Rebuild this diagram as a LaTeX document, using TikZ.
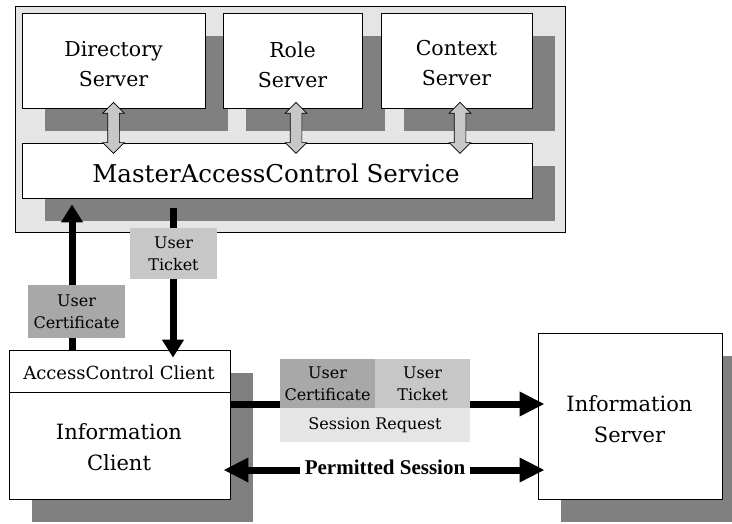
\documentclass[tikz,border=0pt]{standalone}
\usepackage{fontspec}
\setmainfont{DejaVu Serif}
\newfontfamily\permfont{Liberation Serif}
\usetikzlibrary{arrows.meta,shapes.arrows,calc,backgrounds}

\tikzset{
  panel/.style={draw=black, line width=0.8pt, fill=black!10},
  box/.style={draw=black, line width=0.8pt, fill=white, inner sep=0pt},
  dropshade/.style={fill=black!50},
  srvtext/.style={align=center, inner sep=0pt, font=\fontsize{20.5}{30}\selectfont},
  infotext/.style={align=center, inner sep=0pt, font=\fontsize{21}{31}\selectfont},
  lbl/.style={align=center, inner sep=0pt, font=\fontsize{16}{22}\selectfont},
  blockarrow/.style={double arrow, draw=black, line width=0.6pt, fill=black!22,
    inner xsep=0pt, inner ysep=5.5pt, minimum height=51pt,
    double arrow head extend=5pt, rotate=90},
  flow/.style={line width=7pt, draw=black},
  vtip/.style={-{Triangle[width=21pt,length=18pt]}},
  htip/.style={-{Triangle[width=23pt,length=25pt]}},
  hboth/.style={{Triangle[width=23pt,length=25pt]}-{Triangle[width=23pt,length=25pt]}},
}

\begin{document}
\begin{tikzpicture}[x=1pt,y=-1pt]
\useasboundingbox (0,0) rectangle (732,523);

% servers and service
\node[box, minimum width=183pt, minimum height=95pt] (dir) at (113.5,60.5) {};
\node[box, minimum width=139pt, minimum height=95pt] (role) at (292.5,60.5) {};
\node[box, minimum width=151pt, minimum height=95pt] (ctx) at (456.5,60.5) {};
\node[box, minimum width=510pt, minimum height=55pt] (mac) at (277,170.5) {};

% clients
\node[box, minimum width=221pt, minimum height=149pt] (client) at (119.5,424.5) {};
\node[box, minimum width=184pt, minimum height=166pt] (isrv) at (630,416) {};

% background: page, panel, drop shadows
\begin{scope}[on background layer]
  \fill[white] (0,0) rectangle (732,523);
  \node[panel, minimum width=550pt, minimum height=226pt, inner sep=0pt] (pnl) at (290,119) {};
  \foreach \b in {dir,role,ctx,mac,client,isrv}
    \fill[dropshade] ($(\b.north west)+(23,23)$) rectangle ($(\b.south east)+(23,23)$);
\end{scope}

% texts
\node[srvtext] (dirtxt) at ($(dir.center)+(0,4)$) {Directory\\Server};
\node[srvtext] (roletxt) at ($(role.center)+(0,4)$) {Role\\Server};
\node[srvtext] (ctxtxt) at ($(ctx.center)+(0,3)$) {Context\\Server};
\node[anchor=base, inner sep=0pt, font=\fontsize{24.5}{30}\selectfont] (mactxt) at (276,182) {MasterAccessControl Service};

\coordinate (divy) at (0,392);
\draw[line width=0.8pt] (client.west |- divy) -- (client.east |- divy);
\node[anchor=base, inner sep=0pt, font=\fontsize{18}{22}\selectfont] (acctxt) at (119,379) {AccessControl Client};
\node[infotext] (ictxt) at (119,447.3) {Information\\Client};
\node[infotext] (istxt) at (629.5,419.3) {Information\\Server};

% block arrows between servers and service
\node[blockarrow] (a1) at ($(dir.south)+(0,19.5)$) {};
\node[blockarrow] (a2) at ($(role.south)+(3.5,19.5)$) {};
\node[blockarrow] (a3) at ($(ctx.south)+(3.5,19.5)$) {};

% certificate up, ticket down
\coordinate (upx) at (72,0);
\coordinate (dnx) at (173,0);
\draw[flow, vtip, shorten >=6pt] (client.north -| upx) -- (mac.south -| upx);
\draw[flow, vtip, shorten <=10pt, shorten >=-8pt] (mac.south -| dnx) -- (client.north -| dnx);

\node[lbl, fill=black!34, minimum width=97pt, minimum height=53pt] (certlbl) at (76.5,311.5) {User\\Certificate};
\node[lbl, fill=black!22, minimum width=87pt, minimum height=51pt] (ticklbl) at (173.5,253.5) {User\\Ticket};

% session request and permitted session
\coordinate (reqy) at (0,404);
\coordinate (permy) at (0,470);
\draw[flow, htip, shorten >=-7pt] (client.east |- reqy) -- (isrv.west |- reqy);
\draw[flow, hboth, shorten <=-7pt, shorten >=-7pt] (client.east |- permy) -- (isrv.west |- permy);

\node[lbl, fill=black!34, minimum width=95pt, minimum height=49pt] (rqcert) at (327.5,383.5) {User\\Certificate};
\node[lbl, fill=black!22, minimum width=95pt, minimum height=49pt] (rqtick) at (422.5,383.5) {User\\Ticket};
\node[lbl, fill=black!10, minimum width=190pt, minimum height=34pt] (rqsess) at (375,425) {Session Request};

\node[fill=white, inner sep=0pt, minimum width=170pt, minimum height=39pt,
      font=\permfont\bfseries\fontsize{21}{24}\selectfont] (perm) at (385,467.5) {Permitted Session};
\end{tikzpicture}
\end{document}
